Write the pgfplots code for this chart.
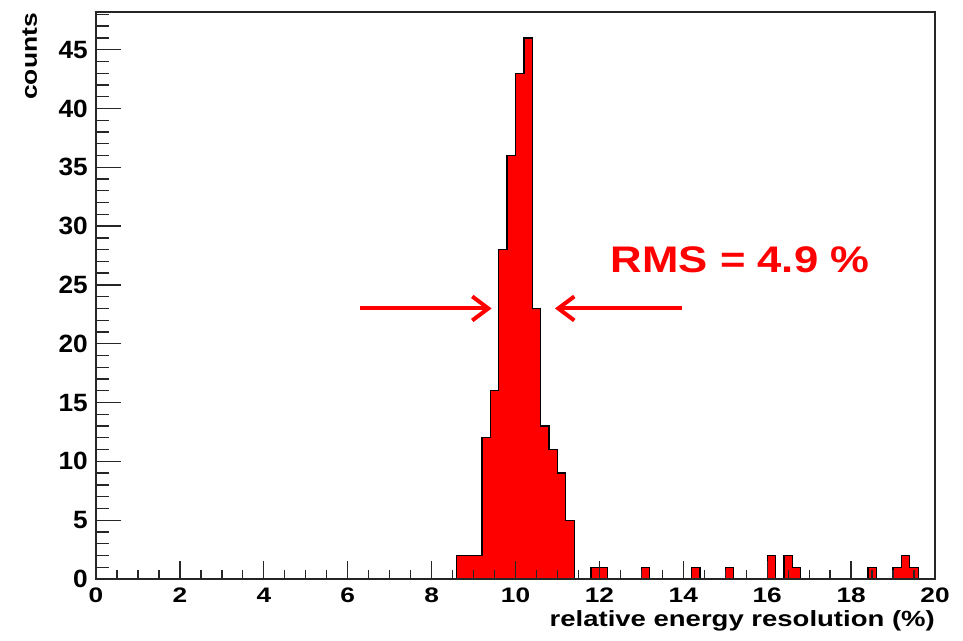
\documentclass[border=0pt]{standalone}
\usepackage{fontspec}
\setmainfont{Liberation Sans}
\newfontfamily\fX[FakeStretch=1.25]{Liberation Sans}
\newfontfamily\fY[FakeStretch=1.05]{Liberation Sans}
\newfontfamily\fR[FakeStretch=1.18]{Liberation Sans}
\newfontfamily\fC[FakeStretch=1.2]{Liberation Sans}
\usepackage{pgfplots}
\pgfplotsset{compat=1.18}
\usepackage{pgfplotstable}
\usetikzlibrary{arrows.meta}

\pgfplotstableread{
x y
8.4 0
8.6 2
8.8 2
9.0 2
9.2 12
9.4 16
9.6 28
9.8 36
10.0 43
10.2 46
10.4 23
10.6 13
10.8 11
11.0 9
11.2 5
11.4 0
11.6 0
11.8 1
12.0 1
12.2 0
12.4 0
12.6 0
12.8 0
13.0 1
13.2 0
13.4 0
13.6 0
13.8 0
14.0 0
14.2 1
14.4 0
14.6 0
14.8 0
15.0 1
15.2 0
15.4 0
15.6 0
15.8 0
16.0 2
16.2 0
16.4 2
16.6 1
16.8 0
17.0 0
17.2 0
17.4 0
17.6 0
17.8 0
18.0 0
18.2 0
18.4 1
18.6 0
18.8 0
19.0 1
19.2 2
19.4 1
19.6 0
}\histdata

\begin{document}
\begin{tikzpicture}
\begin{axis}[
  at={(96pt,61pt)}, anchor=south west,
  scale only axis, width=839pt, height=567pt,
  xmin=0, xmax=20, ymin=0, ymax=48.2,
  axis on top,
  axis line style={line width=1.3pt, black!85},
  tick pos=left, tick align=inside,
  xtick={0,2,...,20}, minor xtick={0,0.5,...,20},
  ytick={0,5,...,45}, minor ytick={0,1,...,48},
  xtick style={line width=1.3pt, black!85, /pgfplots/major tick length=18pt, /pgfplots/minor tick length=9pt},
  ytick style={line width=1.3pt, black!85, /pgfplots/major tick length=25pt, /pgfplots/minor tick length=13pt},
  /pgf/number format/assume math mode=true,
  xticklabel style={font=\fX\bfseries\fontsize{21pt}{21pt}\selectfont, inner sep=0pt, anchor=north, yshift=-9pt},
  yticklabel style={font=\fY\bfseries\fontsize{25pt}{25pt}\selectfont, inner sep=0pt, anchor=east, xshift=-8pt},
  xlabel={relative energy resolution (\%)},
  ylabel={counts},
  every axis x label/.style={at={(rel axis cs:1,0)}, yshift=-47pt, anchor=base east, inner sep=0pt, font=\fX\bfseries\fontsize{22pt}{22pt}\selectfont},
  every axis y label/.style={at={(rel axis cs:0,1)}, xshift=-59pt, yshift=-1pt, rotate=90, anchor=base east, inner sep=0pt, font=\fC\bfseries\fontsize{22pt}{22pt}\selectfont},
]
\addplot[const plot mark left, fill=red, draw=black, line width=1.3pt] table[x=x, y=y] {\histdata} \closedcycle;
\draw[red, line width=4pt, -{Straight Barb[length=16pt, width=24pt]}] (axis cs:6.29,23) -- (axis cs:9.43,23);
\draw[red, line width=4pt, -{Straight Barb[length=16pt, width=24pt]}] (axis cs:13.98,23) -- (axis cs:10.94,23);
\node[anchor=base west, inner sep=0pt, text=red, font=\fR\bfseries\fontsize{37pt}{37pt}\selectfont] at (axis cs:12.27,26.08) {RMS = 4.9 \%};
\end{axis}
\pgfresetboundingbox
\path[use as bounding box] (0,0) rectangle (963pt,640pt);
\end{tikzpicture}
\end{document}
